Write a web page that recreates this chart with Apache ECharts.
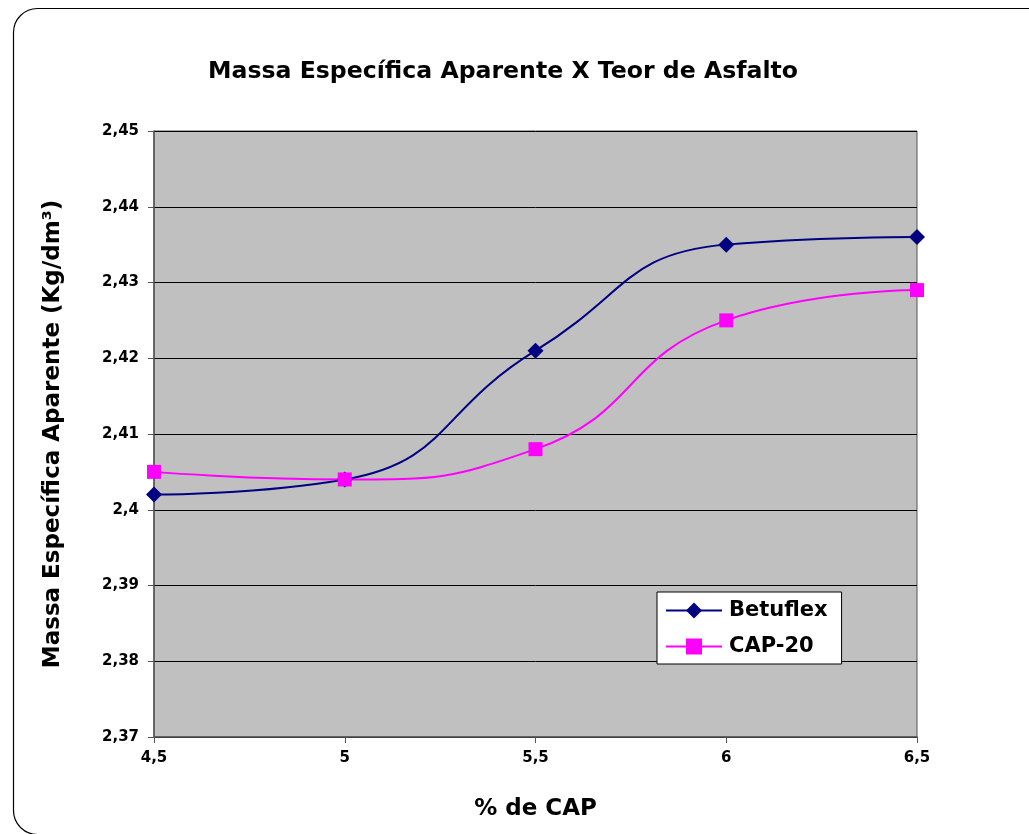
<!DOCTYPE html>
<html><head><meta charset="utf-8">
<script src="https://cdn.jsdelivr.net/npm/echarts@6/dist/echarts.min.js"></script>
<style>html,body{margin:0;padding:0;background:#fff}#c{width:1029px;height:834px}</style>
</head><body><div id="c"></div>
<script>
var xValues = [4.5, 5, 5.5, 6, 6.5];
var betuflex = [2.402, 2.404, 2.421, 2.435, 2.436];
var cap20 = [2.405, 2.404, 2.408, 2.425, 2.429];
var seriesNames = ['Betuflex', 'CAP-20'];
var titleText = 'Massa Específica Aparente X Teor de Asfalto';
var xName = '% de CAP';
var yName = 'Massa Específica Aparente (Kg/dm³)';

function pairs(xs, ys){ return xs.map(function(x,i){return [x, ys[i]];}); }
function comma(v){ return String(+v.toFixed(3)).replace('.', ','); }
var font = 'DejaVu Sans';
var chart = echarts.init(document.getElementById('c'));
chart.setOption({
  animation:false,
  backgroundColor:'#fff',
  graphic:[{type:'rect', left:11, top:6, shape:{width:1040, height:826, r:24},
    style:{fill:'none', stroke:'#000', lineWidth:1.2}, z:-1}],
  title:{text:titleText, left:498, top:55, textAlign:'center',
    textStyle:{fontFamily:font, fontWeight:'bold', fontSize:23.6, color:'#000'}},
  grid:{left:154, right:112, top:131, bottom:97, show:true, backgroundColor:'#c0c0c0', borderColor:'#555', borderWidth:1},
  legend:{left:657, top:592, orient:'vertical', backgroundColor:'#fff', borderColor:'#000', borderWidth:1,
    padding:[8,14,7,8], itemGap:15, itemWidth:56, itemHeight:20,
    textStyle:{fontFamily:font, fontWeight:'bold', fontSize:21, color:'#000', padding:[0,0,0,2]}, data:seriesNames},
  xAxis:{type:'value', min:4.5, max:6.5, interval:0.5,
    name:xName, nameLocation:'middle', nameGap:61,
    nameTextStyle:{fontFamily:font, fontWeight:'bold', fontSize:23, color:'#000'},
    axisLine:{lineStyle:{color:'#555', width:1.5}},
    axisTick:{show:true, length:6, lineStyle:{color:'#555'}},
    axisLabel:{fontFamily:font, fontWeight:'bold', fontSize:15, color:'#000', margin:14, formatter:comma},
    splitLine:{show:false}},
  yAxis:{type:'value', min:2.37, max:2.45, interval:0.01,
    name:yName, nameLocation:'middle', nameGap:89,
    nameTextStyle:{fontFamily:font, fontWeight:'bold', fontSize:23, color:'#000'},
    axisLine:{show:true, lineStyle:{color:'#555', width:1.5}},
    axisTick:{show:true, length:6, lineStyle:{color:'#555'}},
    axisLabel:{fontFamily:font, fontWeight:'bold', fontSize:15, color:'#000', margin:15, formatter:comma},
    splitLine:{show:true, lineStyle:{color:'#000', width:1}}},
  series:[
    {name:seriesNames[0], type:'line', data:pairs(xValues, betuflex), smooth:0.5,
     symbol:'diamond', symbolSize:16, itemStyle:{color:'#000080'}, lineStyle:{color:'#000080', width:2}},
    {name:seriesNames[1], type:'line', data:pairs(xValues, cap20), smooth:0.5,
     symbol:'rect', symbolSize:14, itemStyle:{color:'#ff00ff'}, lineStyle:{color:'#ff00ff', width:2}}
  ]
});
</script></body></html>
